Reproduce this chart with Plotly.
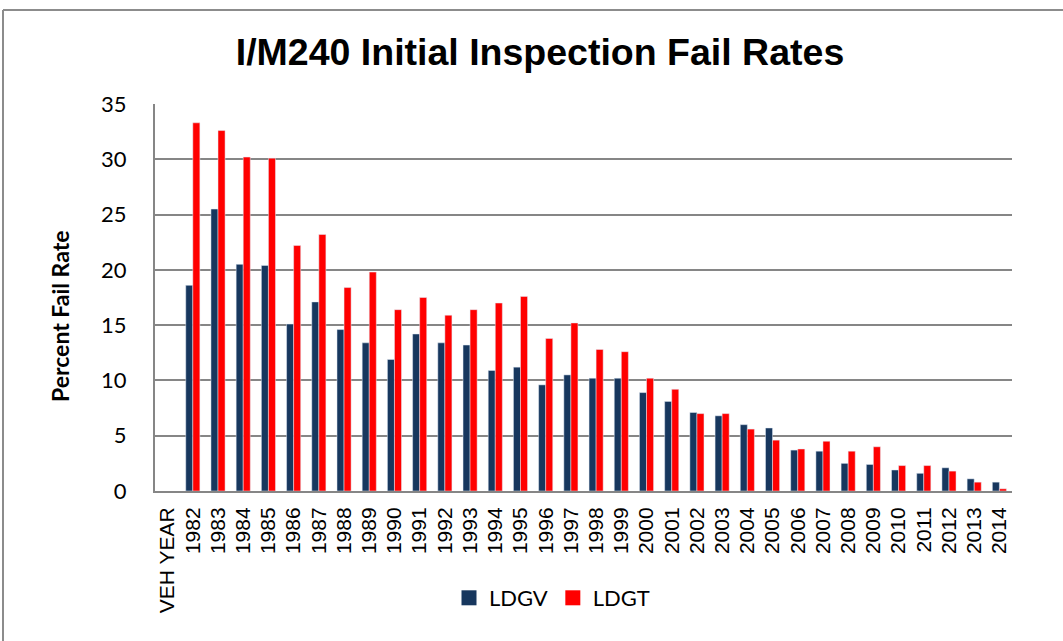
import plotly.graph_objects as go

categories = ["VEH YEAR"] + [str(y) for y in range(1982, 2015)]

ldgv = [None,
        18.6, 25.5, 20.5, 20.4, 15.1, 17.1, 14.6, 13.4, 11.9, 14.2,
        13.4, 13.2, 10.9, 11.2, 9.6, 10.5, 10.2, 10.2, 8.9, 8.1,
        7.1, 6.8, 6.0, 5.7, 3.7, 3.6, 2.5, 2.4, 1.9, 1.6,
        2.1, 1.1, 0.8]

ldgt = [None,
        33.3, 32.6, 30.2, 30.1, 22.2, 23.2, 18.4, 19.8, 16.4, 17.5,
        15.9, 16.4, 17.0, 17.6, 13.8, 15.2, 12.8, 12.6, 10.2, 9.2,
        7.0, 7.0, 5.6, 4.6, 3.8, 4.5, 3.6, 4.0, 2.3, 2.3,
        1.8, 0.8, 0.2]

W, H = 1063, 641
L, R, T, B = 155, 51, 104, 150
pw, ph = W - L - R, H - T - B

grid = "#868686"
colors = {"LDGV": "#17375E", "LDGT": "#FF0000"}

fig = go.Figure()
fig.add_trace(go.Bar(x=categories, y=ldgv, name="LDGV",
                     marker_color=colors["LDGV"], showlegend=False))
fig.add_trace(go.Bar(x=categories, y=ldgt, name="LDGT",
                     marker_color=colors["LDGT"], showlegend=False))

# legend entries with bigger square swatches
for name, col in colors.items():
    fig.add_trace(go.Scatter(x=[None], y=[None], mode="markers", name=name,
                             marker=dict(symbol="square", size=15, color=col)))


def px_x(p):
    return (p - L) / pw


def px_y(p):
    return (H - B - p) / ph


fig.update_layout(
    width=W, height=H,
    margin=dict(l=L, r=R, t=T, b=B),
    paper_bgcolor="white",
    plot_bgcolor="white",
    barmode="group",
    bargap=0.44,
    bargroupgap=0,
    title=dict(
        text="<b>I/M240 Initial Inspection Fail Rates</b>",
        font=dict(family="Liberation Sans", size=37.5, color="black"),
        x=px_x(540), xref="paper", xanchor="center",
        y=1 - 52 / H, yref="container", yanchor="middle",
    ),
    legend=dict(
        orientation="h",
        x=px_x(552), xanchor="center",
        y=px_y(598), yanchor="middle",
        font=dict(family="Lato", size=22, color="black"),
        itemwidth=30,
    ),
    showlegend=True,
    annotations=[
        dict(text="<b>Percent Fail Rate</b>", textangle=-90,
             xref="paper", yref="paper", x=px_x(60), y=px_y(316),
             xanchor="center", yanchor="middle", showarrow=False,
             font=dict(family="Lato", size=23, color="black")),
    ],
    shapes=[
        dict(type="line", xref="paper", yref="paper",
             x0=px_x(3), x1=px_x(1070), y0=px_y(10), y1=px_y(10),
             line=dict(color="#8c8c8c", width=2)),
        dict(type="line", xref="paper", yref="paper",
             x0=px_x(3), x1=px_x(3), y0=px_y(10), y1=px_y(650),
             line=dict(color="#8c8c8c", width=2)),
    ],
)

fig.update_xaxes(
    type="category",
    tickangle=-90,
    tickfont=dict(family="Liberation Sans", size=21, color="black"),
    showline=True, linecolor=grid, linewidth=2,
    showgrid=False,
    ticks="",
    ticklabelstandoff=6,
)

fig.update_yaxes(
    range=[0, 35],
    dtick=5,
    tickfont=dict(family="Lato", size=22, color="black"),
    showline=True, linecolor=grid, linewidth=2,
    showgrid=True, gridcolor=grid, gridwidth=2,
    zeroline=False,
    ticks="",
    ticklabelstandoff=22,
)

fig.write_html("out.html", config={"displayModeBar": False},
               post_script="document.body.style.margin='0';")
